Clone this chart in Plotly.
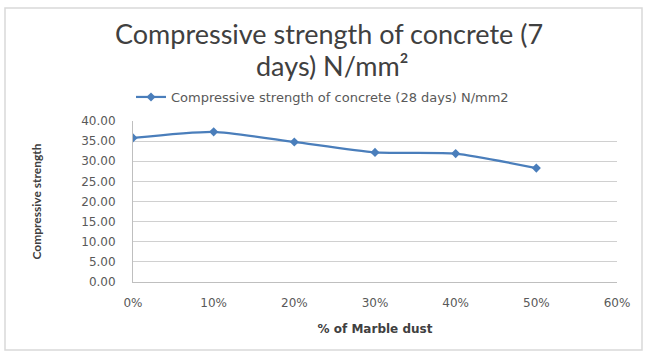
import plotly.graph_objects as go

# Marble dust replacement levels and measured strengths
marble_dust = [0.0, 0.1, 0.2, 0.3, 0.4, 0.5]
strength_28d = [35.8, 37.3, 34.8, 32.2, 31.9, 28.3]
series_name = "Compressive strength of concrete (28 days) N/mm2"
title_lines = ["Compressive strength of concrete (7", "days) N/mm²"]
y_ticks = [0, 5, 10, 15, 20, 25, 30, 35, 40]
x_ticks = [0.0, 0.1, 0.2, 0.3, 0.4, 0.5, 0.6]

W, H = 646, 354
L, R, T, B = 133, 29, 121, 72
PW, PH = W - L - R, H - T - B


def px_x(x):
    return (x - L) / PW


def px_y(y):
    return (H - B - y) / PH


fig = go.Figure()
fig.add_trace(go.Scatter(
    x=marble_dust, y=strength_28d, name=series_name,
    mode="lines+markers",
    line=dict(color="#4a7ebb", width=2.2, shape="spline", smoothing=0.6),
    marker=dict(symbol="diamond", size=7, color="#4a7ebb"),
))

title_font = "Lato, 'Open Sans', sans-serif"
body_font = "'DejaVu Sans', sans-serif"

fig.update_layout(
    width=W, height=H,
    margin=dict(l=L, r=R, t=T, b=B),
    paper_bgcolor="white", plot_bgcolor="white",
    font=dict(family=body_font, color="#595959"),
    showlegend=True,
    legend=dict(
        orientation="h", x=px_x(131), xanchor="left",
        y=px_y(97), yanchor="middle",
        font=dict(size=13, color="#595959", family=body_font),
        bgcolor="rgba(0,0,0,0)", itemwidth=30,
    ),
    xaxis=dict(
        range=[0, 0.6], tickvals=x_ticks, tickformat=".0%",
        showgrid=False, zeroline=False,
        showline=True, linecolor="#bfbfbf", linewidth=1,
        ticks="outside", ticklen=10, tickcolor="rgba(0,0,0,0)",
        tickfont=dict(size=12, color="#595959"),
        title=dict(text="<b>% of Marble dust</b>",
                   font=dict(size=12, color="#404040", family=body_font), standoff=15),
    ),
    yaxis=dict(
        range=[0, 40], tickvals=y_ticks, tickformat=".2f",
        showgrid=True, gridcolor="#d0d0d0", gridwidth=1,
        zeroline=False, showline=True, linecolor="#bfbfbf", linewidth=1,
        ticks="outside", ticklen=14, tickcolor="rgba(0,0,0,0)",
        tickfont=dict(size=12, color="#595959"),
        title=dict(text="<b>Compressive strength</b>",
                   font=dict(size=12, color="#404040", family=title_font), standoff=37),
    ),
    annotations=[
        dict(text=title_lines[0], xref="paper", yref="paper",
             x=px_x(329), y=px_y(33), xanchor="center", yanchor="middle",
             showarrow=False, font=dict(size=27, color="#404040", family=title_font)),
        dict(text=title_lines[1], xref="paper", yref="paper",
             x=px_x(332), y=px_y(66), xanchor="center", yanchor="middle",
             showarrow=False, font=dict(size=27, color="#404040", family=title_font)),
    ],
    shapes=[dict(
        type="rect", xref="paper", yref="paper",
        x0=px_x(5), x1=px_x(642), y0=px_y(350), y1=px_y(8),
        line=dict(color="#d9d9d9", width=1.5), fillcolor="rgba(0,0,0,0)",
        layer="below",
    )],
)

fig.write_html("out.html")
